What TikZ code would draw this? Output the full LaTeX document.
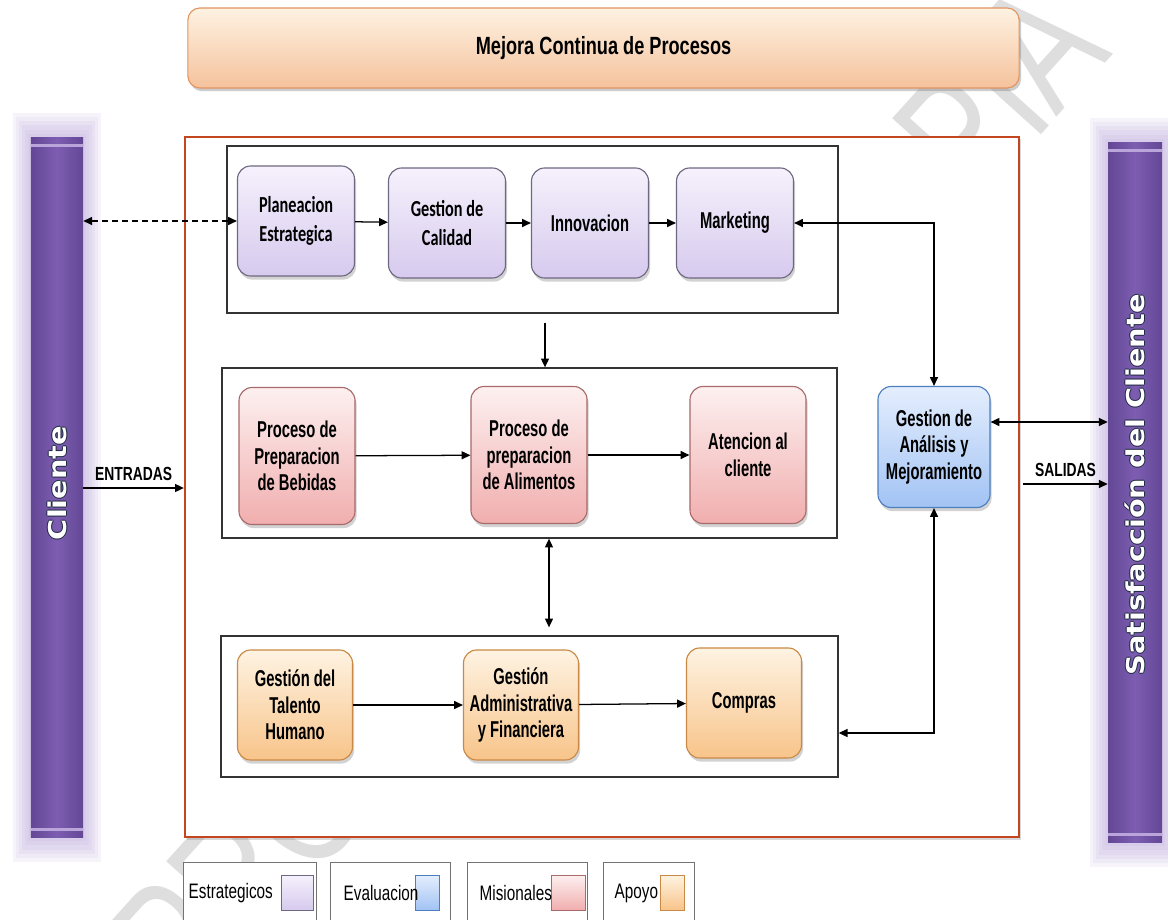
\documentclass[tikz,border=0pt]{standalone}
\usepackage{fontspec}
\setmainfont{Liberation Sans}
\newfontfamily\cajafont[FakeStretch=0.645]{Liberation Sans}
\newfontfamily\calfont[FakeStretch=0.71]{Carlito}
\newfontfamily\anchofont[FakeStretch=0.73]{Liberation Sans}
\newfontfamily\barfont[FakeStretch=1.17]{DejaVu Sans}
\usepackage{tikz}
\usetikzlibrary{positioning,arrows.meta,calc,shadows}

\definecolor{lilaA}{HTML}{F6F1FC}
\definecolor{lilaB}{HTML}{D6CAEE}
\definecolor{lilaC}{HTML}{6E6880}
\definecolor{rosaA}{HTML}{FDF0F0}
\definecolor{rosaB}{HTML}{F1AEAE}
\definecolor{rosaC}{HTML}{A86A6A}
\definecolor{narA}{HTML}{FEF3E2}
\definecolor{narB}{HTML}{F8C48A}
\definecolor{narC}{HTML}{C98A45}
\definecolor{azulA}{HTML}{E4EEFD}
\definecolor{azulB}{HTML}{A2C3F4}
\definecolor{azulC}{HTML}{4C7FC2}
\definecolor{moradoA}{HTML}{7D5DB1}
\definecolor{moradoB}{HTML}{634795}
\definecolor{brillo}{HTML}{B9A5DA}
\definecolor{contorno}{HTML}{1E2A40}
\definecolor{marcoc}{HTML}{C4461E}
\definecolor{tituloA}{HTML}{FEF2E2}
\definecolor{tituloB}{HTML}{F5C29C}
\definecolor{tituloC}{HTML}{E1955F}

\begin{document}
\begin{tikzpicture}[x=0.025cm,y=-0.025cm,every node/.style={inner sep=1pt},
  caja/.style={rectangle,rounded corners=0.33cm,align=center,line width=0.8pt,
    font=\cajafont\bfseries\fontsize{16.3}{18.9}\selectfont,
    drop shadow={shadow xshift=0.04cm,shadow yshift=-0.09cm,opacity=0.35}},
  cEstr/.style={top color=lilaA,bottom color=lilaB,draw=lilaC},
  cMisi/.style={top color=rosaA,bottom color=rosaB,draw=rosaC},
  cApoy/.style={top color=narA,bottom color=narB,draw=narC},
  cEval/.style={top color=azulA,bottom color=azulB,draw=azulC},
  estr/.style={caja,cEstr,minimum width=2.925cm,minimum height=2.75cm},
  misi/.style={caja,cMisi,minimum width=2.9cm,minimum height=3.425cm},
  apoy/.style={caja,cApoy,minimum width=2.875cm,minimum height=2.75cm},
  eval/.style={caja,cEval,minimum width=2.8cm,minimum height=3.025cm},
  grupo/.style={rectangle,draw=black!80,line width=0.9pt,fill=white},
  barra/.style={rectangle,left color=moradoB,right color=moradoB,middle color=moradoA,
    minimum width=1.3cm,minimum height=17.475cm},
  bartexto/.style={rotate=90,text=white,font=\barfont\bfseries\fontsize{17.5}{20}\selectfont},
  leyenda/.style={rectangle,draw=black!55,fill=white,line width=0.6pt,minimum height=1.95cm,
    drop shadow={shadow xshift=0.03cm,shadow yshift=-0.03cm,opacity=0.25}},
  muestra/.style={rectangle,line width=0.6pt,minimum height=0.875cm},
  flecha/.style={line width=0.9pt,-{Triangle[length=0.22cm,width=0.2cm]}},
  doble/.style={line width=0.9pt,{Triangle[length=0.22cm,width=0.2cm]}-{Triangle[length=0.22cm,width=0.2cm]}},
  etiq/.style={font=\anchofont\bfseries\fontsize{13.5}{15}\selectfont},
  marca/.style={text=black!13,font=\anchofont\fontsize{125}{125}\selectfont}]

  \path[use as bounding box,clip] (0,0) rectangle (1168,919);
  \fill[white] (0,0) rectangle (1168,919);

  % watermark pieces
  \node[marca,rotate=48] (wmA) at (240,870) {PRO};
  \node[marca,rotate=48] (wmB) at (1000,90) {PIA};

  % title bar
  \node[rectangle,rounded corners=0.3cm,top color=tituloA,bottom color=tituloB,draw=tituloC,
    line width=0.8pt,minimum width=20.775cm,minimum height=2cm,
    drop shadow={shadow xshift=0.05cm,shadow yshift=-0.08cm,opacity=0.4},
    font=\anchofont\bfseries\fontsize{17.7}{20}\selectfont] (mejora) at (603.5,48) {Mejora Continua de Procesos};

  % side bars with glow
  \foreach \g in {3,6,...,18} {
    \fill[brillo,opacity=0.12] (31-\g,138-1.4*\g) rectangle (83+\g,837+1.4*\g);
    \fill[brillo,opacity=0.12] (1108-\g,143-1.4*\g) rectangle (1162+\g,842+1.4*\g);
  }
  \node[barra] (cliente) at (57,487.5) {};
  \node[barra,minimum width=1.35cm] (satis) at (1135,492.5) {};
  \draw[brillo,line width=2pt] ([yshift=-0.2cm]cliente.north west) -- ([yshift=-0.2cm]cliente.north east);
  \draw[brillo,line width=2pt] ([yshift=0.2cm]cliente.south west) -- ([yshift=0.2cm]cliente.south east);
  \draw[brillo,line width=2pt] ([yshift=-0.2cm]satis.north west) -- ([yshift=-0.2cm]satis.north east);
  \draw[brillo,line width=2pt] ([yshift=0.2cm]satis.south west) -- ([yshift=0.2cm]satis.south east);
  % dark rim under the bar titles
  \foreach \dx/\dy [count=\k] in {1/0,-1/0,0/1,0/-1} {
    \node[bartexto,text=contorno] (clienteb\k) at (57+\dx,483+\dy) {Cliente};
    \node[bartexto,text=contorno] (satisb\k) at (1135+\dx,485+\dy) {Satisfacción del Cliente};
  }
  \node[bartexto] (clientetxt) at (57,483) {Cliente};
  \node[bartexto] (satistxt) at (1135,485) {Satisfacción del Cliente};

  % main frame
  \node[rectangle,draw=marcoc,line width=1.5pt,fill=white,minimum width=20.85cm,minimum height=17.5cm,
    drop shadow={shadow xshift=0.05cm,shadow yshift=-0.06cm,opacity=0.3}] (marco) at (602,487) {};

  % process groups
  \node[grupo,minimum width=15.275cm,minimum height=4.175cm] (topgrp) at (532.5,229.5) {};
  \node[grupo,minimum width=15.375cm,minimum height=4.25cm] (midgrp) at (529.5,453) {};
  \node[grupo,minimum width=15.425cm,minimum height=3.525cm] (botgrp) at (529.5,706.5) {};

  % estrategicos
  \node[estr,font=\calfont\bfseries\fontsize{16.3}{21}\selectfont] (plan) at (296,221) {Planeacion\\Estrategica};
  \node[estr,font=\calfont\bfseries\fontsize{16.3}{21}\selectfont] (calidad) at (447,223) {Gestion de\\Calidad};
  \node[estr] (innov) at (590,223) {Innovacion};
  \node[estr] (mkt) at (735,223) {Marketing};

  % misionales
  \node[misi] (bebidas) at (297,456) {Proceso de\\Preparacion\\de Bebidas};
  \node[misi] (alimentos) at (529,455) {Proceso de\\preparacion\\de Alimentos};
  \node[misi] (atencion) at (748,455) {Atencion al\\cliente};

  % apoyo
  \node[apoy] (talento) at (295,705) {Gestión del\\Talento\\Humano};
  \node[apoy] (admin) at (521,705) {Gestión\\Administrativa\\y Financiera};
  \node[apoy] (compras) at (744,703) {Compras};

  % evaluacion
  \node[eval] (analisis) at (934,447) {Gestion de\\Análisis y\\Mejoramiento};

  % connectors
  \coordinate (colA) at (545,0);
  \coordinate (colB) at (549,0);
  \coordinate (fb) at (0,733);
  \coordinate (r1) at (0,422);
  \coordinate (r2) at (0,484);
  \coordinate (r3) at (0,488);
  \draw[doble,dash pattern=on 0.15cm off 0.1cm] (cliente.east |- plan.west) -- (plan.west);
  \draw[flecha] (plan) -- (calidad);
  \draw[flecha] (calidad) -- (innov);
  \draw[flecha] (innov) -- (mkt);
  \draw[doble] (mkt.east) -| (analisis.north);
  \draw[flecha] ($(topgrp.south -| colA)+(0,9)$) -- (midgrp.north -| colA);
  \draw[flecha] (bebidas) -- (alimentos);
  \draw[flecha] (alimentos) -- (atencion);
  \draw[doble] (midgrp.south -| colB) -- ($(botgrp.north -| colB)+(0,-8)$);
  \draw[flecha] (talento) -- (admin);
  \draw[flecha] (admin) -- (compras);
  \draw[doble] (analisis.south) |- (botgrp.east |- fb);
  \draw[doble] (analisis.east |- r1) -- (satis.west |- r1);
  \draw[flecha] ($(marco.east |- r2)+(3,0)$) -- node[etiq,above=0.12cm] (salidas) {SALIDAS} (satis.west |- r2);
  \draw[flecha] (cliente.east |- r3) -- node[etiq,above=0.12cm] (entradas) {ENTRADAS} (marco.west |- r3);

  % legend
  \node[leyenda,minimum width=3.325cm] (legE) at (249.5,901) {};
  \node[leyenda,minimum width=3cm] (legV) at (390,901) {};
  \node[leyenda,minimum width=3cm] (legM) at (527,901) {};
  \node[leyenda,minimum width=2.275cm] (legA) at (648.5,901) {};
  \node[muestra,cEstr,minimum width=0.82cm] (swE) at (297.5,892.5) {};
  \node[muestra,cEval,minimum width=0.62cm] (swV) at (427.5,892.5) {};
  \node[muestra,cMisi,minimum width=0.85cm] (swM) at (568,892.5) {};
  \node[muestra,cApoy,minimum width=0.6cm] (swA) at (672,892.5) {};
  \node[anchor=west,font=\anchofont\fontsize{14.9}{16}\selectfont] (txtE) at (187,893) {Estrategicos};
  \node[anchor=west,font=\anchofont\fontsize{14.9}{16}\selectfont] (txtV) at (342,893) {Evaluacion};
  \node[anchor=west,font=\anchofont\fontsize{14.9}{16}\selectfont] (txtM) at (478,893) {Misionales};
  \node[anchor=west,font=\anchofont\fontsize{14.9}{16}\selectfont] (txtA) at (613,893) {Apoyo};
\end{tikzpicture}
\end{document}
